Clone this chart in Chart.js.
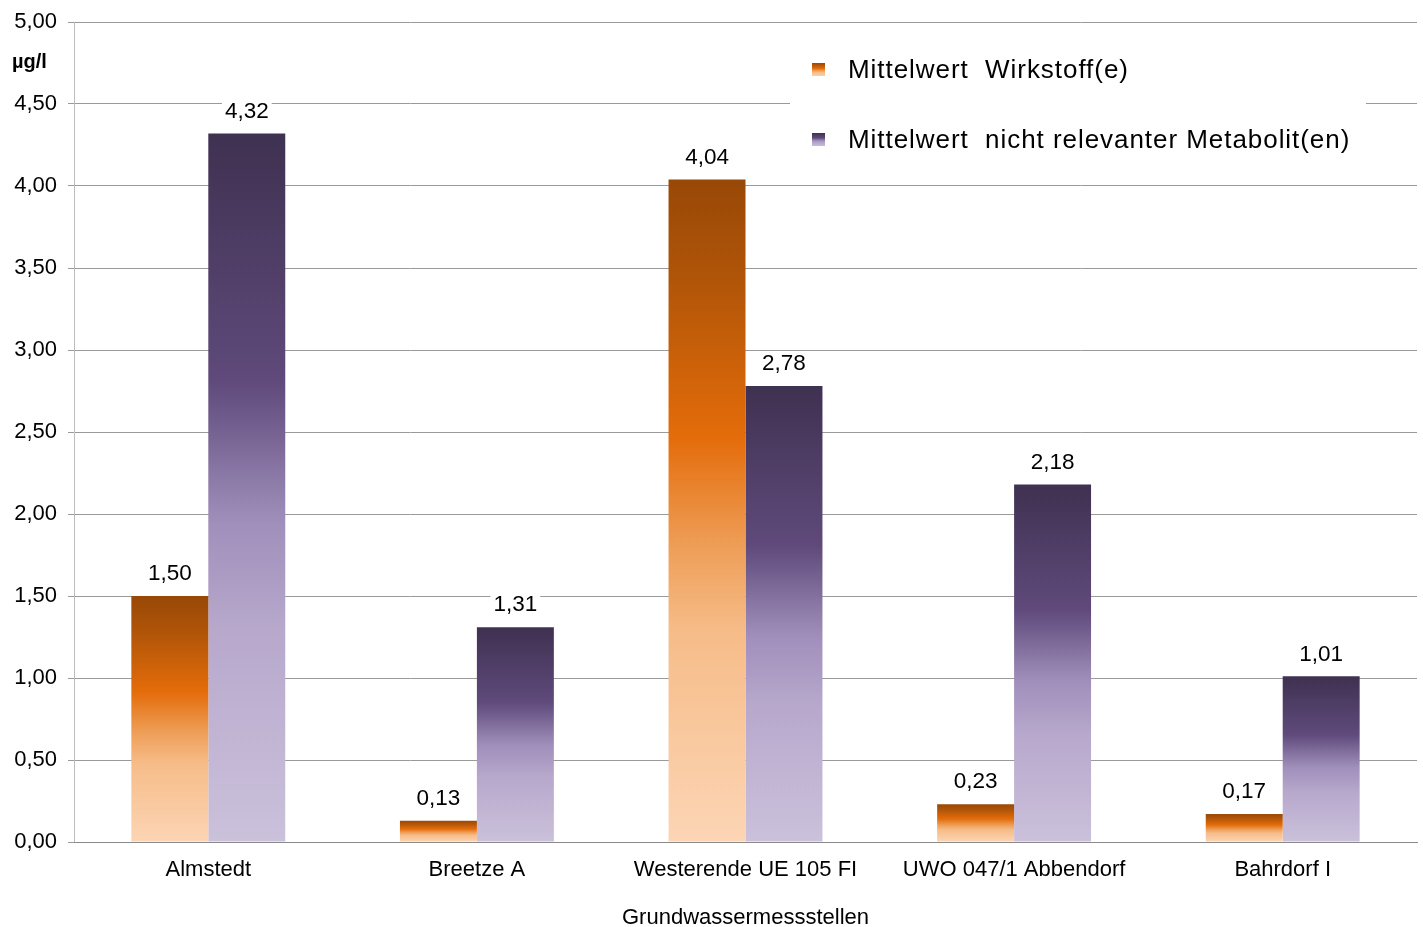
<!DOCTYPE html>
<html>
<head>
<meta charset="utf-8">
<script src="https://cdn.jsdelivr.net/npm/chart.js@4.4.1/dist/chart.umd.min.js"></script>
<style>
  html, body { margin: 0; padding: 0; background: #fff; }
  #wrap { width: 1423px; height: 927px; }
</style>
</head>
<body>
<div id="wrap"><canvas id="chart"></canvas></div>
<script>
const stations = ['Almstedt', 'Breetze A', 'Westerende UE 105 FI', 'UWO 047/1 Abbendorf', 'Bahrdorf I'];
const wirkstoff = [1.50, 0.13, 4.04, 0.23, 0.17];
const metabolit = [4.32, 1.31, 2.78, 2.18, 1.01];
const seriesNames = ['Mittelwert  Wirkstoff(e)', 'Mittelwert  nicht relevanter Metabolit(en)'];

const FONT = '"Liberation Sans", Arial, sans-serif';
const fmt = v => v.toFixed(2).replace('.', ',');

const orangeStops = [[0, '#984807'], [0.15, '#b05508'], [0.39, '#e46c0a'], [0.55, '#ee9d56'], [0.68, '#f6bc88'], [1, '#fcd5b5']];
const purpleStops = [[0, '#3f3151'], [0.35, '#5f4a7b'], [0.55, '#a08fbb'], [0.7, '#b7a8cc'], [1, '#cbc1db']];

function makeGradient(ctx, top, bottom, stops) {
    const g = ctx.createLinearGradient(0, top, 0, bottom);
    stops.forEach(s => g.addColorStop(s[0], s[1]));
    return g;
}

function barFill(stops, fallback) {
    return function (c) {
        const chart = c.chart;
        if (!chart.chartArea || !chart.scales.y || c.raw == null) return fallback;
        const y = chart.scales.y;
        return makeGradient(chart.ctx, y.getPixelForValue(c.raw), y.getPixelForValue(0), stops);
    };
}

// values above bars
const valueLabels = {
    id: 'valueLabels',
    afterDatasetsDraw(chart) {
        const ctx = chart.ctx;
        ctx.save();
        ctx.font = '22.5px ' + FONT;
        ctx.textAlign = 'center';
        ctx.textBaseline = 'middle';
        chart.data.datasets.forEach((ds, i) => {
            chart.getDatasetMeta(i).data.forEach((bar, j) => {
                const txt = fmt(ds.data[j]);
                const w = ctx.measureText(txt).width;
                const cy = bar.y - 22;
                ctx.fillStyle = '#fff';
                ctx.fillRect(bar.x - w / 2 - 3, cy - 12, w + 6, 24);
                ctx.fillStyle = '#000';
                ctx.fillText(txt, bar.x, cy);
            });
        });
        ctx.restore();
    }
};

// legend box in the upper right and the unit label
const extras = {
    id: 'extras',
    afterDraw(chart) {
        const ctx = chart.ctx;
        ctx.save();
        ctx.fillStyle = '#fff';
        ctx.fillRect(790, 32, 576, 140);
        [[orangeStops, 70], [purpleStops, 140]].forEach((item, i) => {
            const cy = item[1];
            ctx.fillStyle = makeGradient(ctx, cy - 7, cy + 7, item[0]);
            ctx.fillRect(812, cy - 7, 13, 13);
            ctx.fillStyle = '#000';
            ctx.font = '26px ' + FONT;
            ctx.letterSpacing = '0.95px';
            ctx.textBaseline = 'middle';
            ctx.textAlign = 'left';
            ctx.fillText(seriesNames[i], 848, cy + 1);
            ctx.letterSpacing = '0px';
        });
        ctx.font = 'bold 20px ' + FONT;
        ctx.textAlign = 'left';
        ctx.textBaseline = 'middle';
        ctx.fillText('µg/l', 12, 62);
        ctx.restore();
    }
};

new Chart(document.getElementById('chart'), {
    type: 'bar',
    data: {
        labels: stations,
        datasets: [
            { label: seriesNames[0], data: wirkstoff, backgroundColor: barFill(orangeStops, '#e46c0a'), borderWidth: 0 },
            { label: seriesNames[1], data: metabolit, backgroundColor: barFill(purpleStops, '#5f4a7b'), borderWidth: 0 }
        ]
    },
    options: {
        responsive: true,
        maintainAspectRatio: false,
        animation: false,
        categoryPercentage: 0.573,
        barPercentage: 1,
        layout: { padding: { top: 17, right: 6, left: 0, bottom: 0 } },
        plugins: {
            legend: { display: false },
            tooltip: { enabled: false }
        },
        scales: {
            y: {
                min: 0,
                max: 5,
                ticks: {
                    stepSize: 0.5,
                    color: '#000',
                    font: { family: FONT, size: 22, lineHeight: 1 },
                    padding: 11,
                    callback: v => fmt(v)
                },
                grid: { color: '#9a9a9a', tickLength: 6, tickColor: '#9a9a9a' },
                border: { display: true, color: '#bdbdbd' },
                afterFit(scale) { scale.width = 74; }
            },
            x: {
                grid: { display: false, drawTicks: false },
                border: { display: true, color: '#8a8a8a' },
                ticks: { color: '#000', font: { family: FONT, size: 22 }, padding: 15 },
                title: {
                    display: true,
                    text: 'Grundwassermessstellen',
                    color: '#000',
                    font: { family: FONT, size: 22 },
                    padding: { top: 14, bottom: -4 }
                },
                afterFit(scale) { scale.height = 85; }
            }
        }
    },
    plugins: [valueLabels, extras]
});
</script>
</body>
</html>
